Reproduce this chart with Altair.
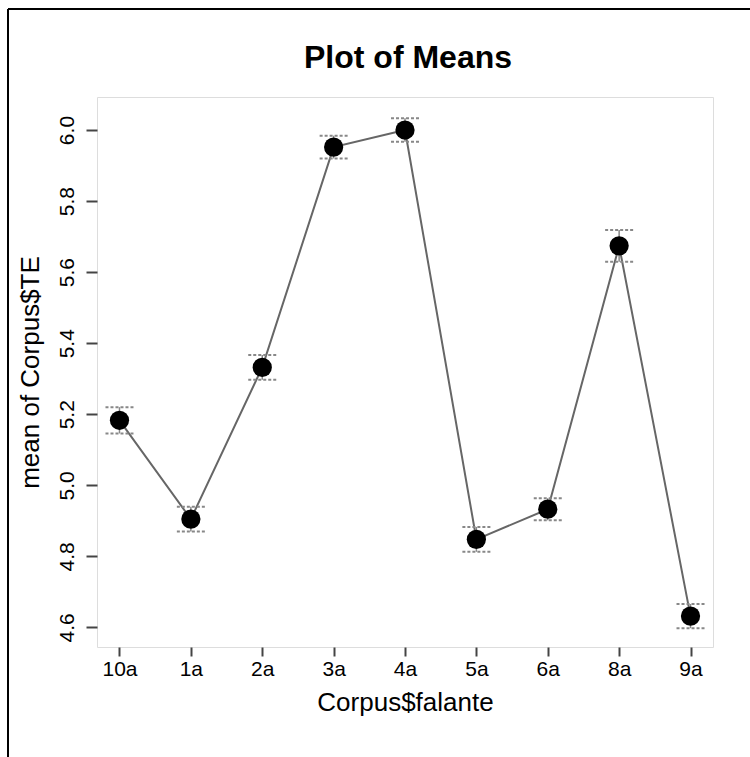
import altair as alt
import pandas as pd

categories = ["10a", "1a", "2a", "3a", "4a", "5a", "6a", "8a", "9a"]
means = [5.183, 4.905, 5.332, 5.952, 6.000, 4.848, 4.933, 5.674, 4.632]
half_ci = [0.037, 0.035, 0.035, 0.032, 0.033, 0.035, 0.031, 0.045, 0.034]
y_ticks = [4.6, 4.8, 5.0, 5.2, 5.4, 5.6, 5.8, 6.0]

df = pd.DataFrame({
    "cat": categories,
    "mean": means,
    "lo": [m - c for m, c in zip(means, half_ci)],
    "hi": [m + c for m, c in zip(means, half_ci)],
})

FONT = "Liberation Sans"
W, H = 616, 550
LEFT, TOP = 97, 97

xscale = alt.Scale(type="point", padding=0.315, domain=categories)
yscale = alt.Scale(domain=[4.545, 6.093], nice=False, zero=False)

x_enc = alt.X("cat:N", scale=xscale, sort=categories,
              axis=alt.Axis(title="Corpus$falante", labelAngle=0, tickSize=9,
                            labelPadding=2, domain=False, grid=False,
                            tickColor="#444", tickWidth=2,
                            labelFontSize=21, labelFont=FONT, labelColor="#000",
                            titleFontSize=26, titleFont=FONT, titleFontWeight="normal",
                            titleColor="#000", titleY=55, titleBaseline="middle"))
y_axis = alt.Axis(title="mean of Corpus$TE", values=y_ticks, format=".1f",
                  labelAngle=270, labelAlign="center", labelBaseline="bottom",
                  tickSize=11, labelPadding=9, domain=False, grid=False,
                  tickColor="#444", tickWidth=2,
                  labelFontSize=21, labelFont=FONT, labelColor="#000",
                  titleFontSize=26, titleFont=FONT, titleFontWeight="normal",
                  titleColor="#000", titleX=-67, titleY=H / 2,
                  titleAngle=270, titleBaseline="middle", titleAlign="center")

base = alt.Chart(df)

line = base.mark_line(color="#666", strokeWidth=2).encode(
    x=x_enc, y=alt.Y("mean:Q", scale=yscale, axis=y_axis))
vbar = base.mark_rule(color="#888", strokeWidth=1.5).encode(
    x="cat:N", y="lo:Q", y2="hi:Q")
cap_hi = base.mark_rule(color="#888", strokeWidth=2, strokeDash=[3, 2],
                        xOffset=-14, x2Offset=14).encode(
    x="cat:N", x2="cat:N", y="hi:Q")
cap_lo = base.mark_rule(color="#888", strokeWidth=2, strokeDash=[3, 2],
                        xOffset=-14, x2Offset=14).encode(
    x="cat:N", x2="cat:N", y="lo:Q")
pts = base.mark_circle(color="black", opacity=1, size=370).encode(
    x="cat:N", y="mean:Q")

one = alt.Data(values=[{"k": 1}])
frame_left = alt.Chart(one).mark_rule(color="black", strokeWidth=2).encode(
    x=alt.value(8 - LEFT), y=alt.value(9 - TOP), y2=alt.value(757 - TOP))
frame_top = alt.Chart(one).mark_rule(color="black", strokeWidth=2).encode(
    x=alt.value(8 - LEFT), x2=alt.value(750 - LEFT), y=alt.value(9 - TOP))
title = alt.Chart(alt.Data(values=[{"t": "Plot of Means"}])).mark_text(
    font=FONT, fontSize=32, fontWeight="bold", color="#000",
    align="center", baseline="middle").encode(
    text="t:N", x=alt.value(W / 2 + 3), y=alt.value(58 - TOP))

chart = alt.layer(line, vbar, cap_hi, cap_lo, pts, frame_left, frame_top, title).properties(
    width=W, height=H,
    autosize=alt.AutoSizeParams(type="none"),
    padding={"left": LEFT, "top": TOP, "right": 750 - LEFT - W, "bottom": 757 - TOP - H},
).configure_view(stroke="#888", strokeWidth=2).configure(background="white")

chart.save("out.html", embed_options={"renderer": "svg", "actions": False})
